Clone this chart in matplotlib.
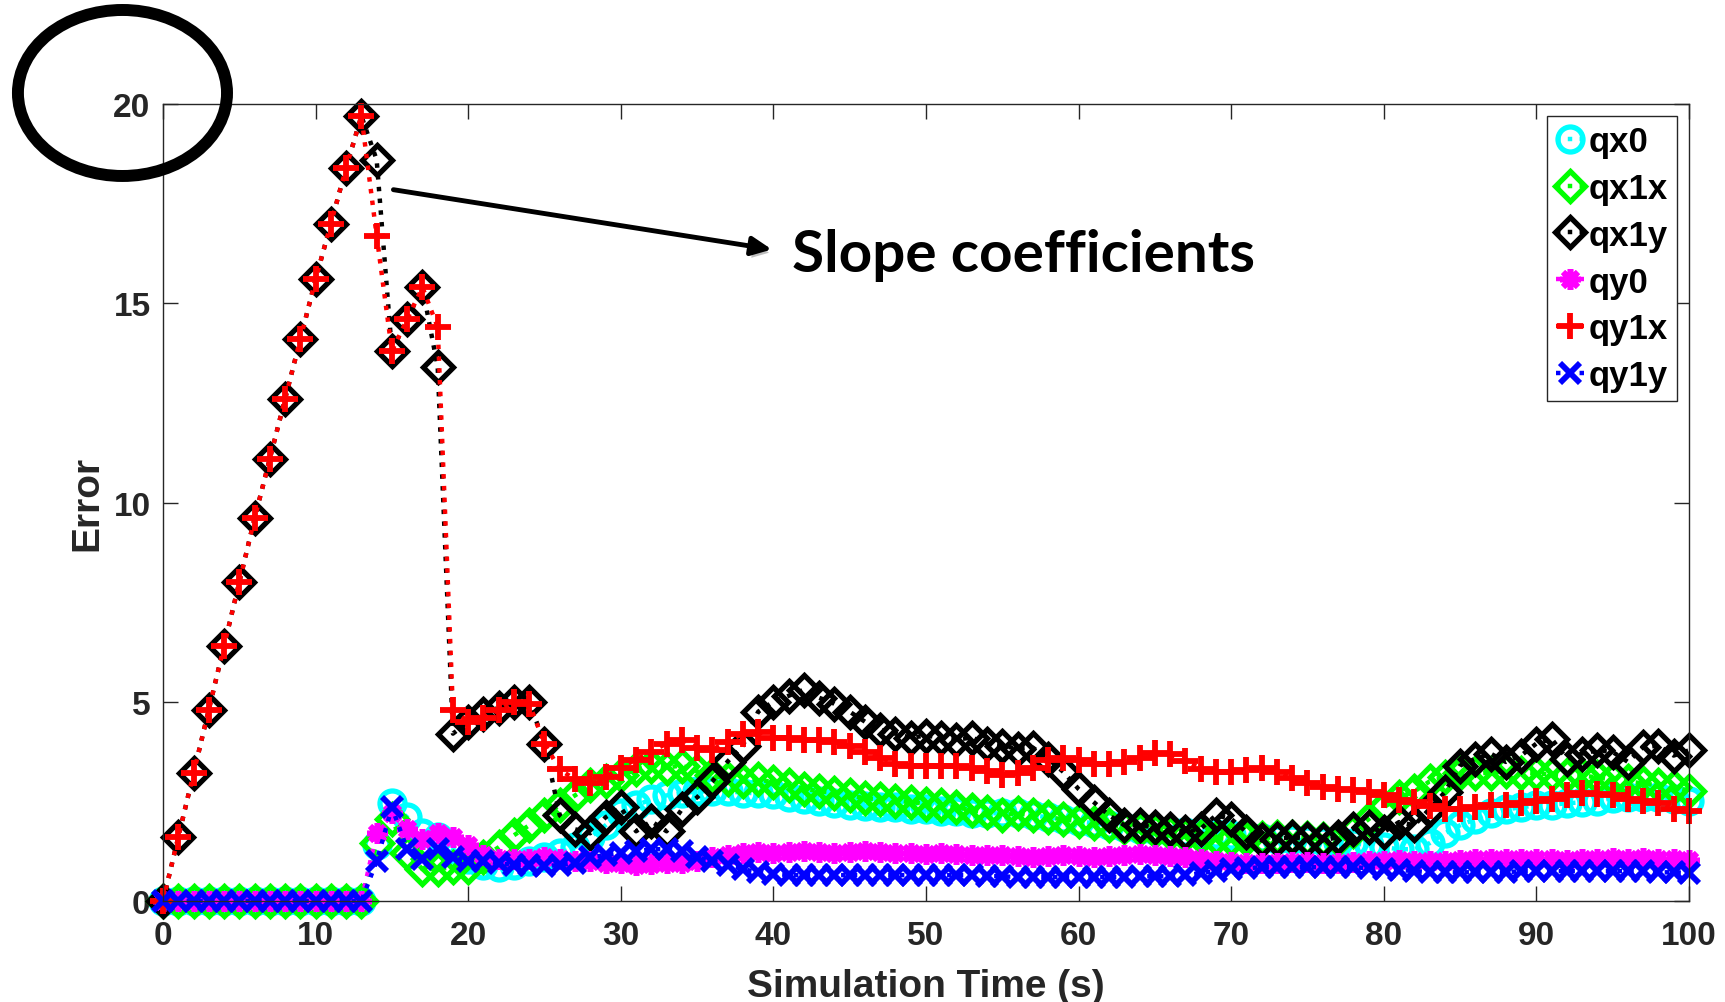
import matplotlib
matplotlib.use('Agg')
import matplotlib.pyplot as plt
import matplotlib.patheffects as pe
from matplotlib.patches import Ellipse

# simulation time (s)
time = list(range(0, 101))

qx0 = [0, 0, 0, 0, 0, 0, 0, 0, 0, 0,
       0, 0, 0, 0, 1.4, 2.45, 2.1, 1.7, 1.6, 1.3,
       1.05, 0.9, 0.85, 0.9, 1.0, 1.1, 1.2, 1.35, 1.6, 1.9,
       2.2, 2.4, 2.55, 2.65, 2.7, 2.75, 2.75, 2.75, 2.72, 2.7,
       2.68, 2.62, 2.55, 2.5, 2.45, 2.42, 2.38, 2.35, 2.35, 2.32,
       2.3, 2.27, 2.25, 2.22, 2.2, 2.2, 2.2, 2.15, 2.1, 2.05,
       2.0, 1.95, 1.9, 1.85, 1.8, 1.78, 1.75, 1.72, 1.7, 1.68,
       1.65, 1.6, 1.58, 1.55, 1.55, 1.52, 1.5, 1.48, 1.45, 1.4,
       1.35, 1.3, 1.3, 1.45, 1.7, 1.9, 2.05, 2.2, 2.3, 2.35,
       2.4, 2.42, 2.45, 2.48, 2.52, 2.58, 2.62, 2.62, 2.6, 2.55,
       2.5]

qx1x = [0, 0, 0, 0, 0, 0, 0, 0, 0, 0,
        0, 0, 0, 0, 1.45, 2.05, 1.2, 0.8, 0.8, 0.85,
        0.85, 1.1, 1.35, 1.65, 1.9, 2.15, 2.4, 2.65, 2.9, 3.0,
        3.15, 3.3, 3.4, 3.35, 3.4, 3.25, 3.15, 3.07, 3.0, 3.05,
        2.98, 2.9, 2.82, 2.75, 2.72, 2.65, 2.58, 2.55, 2.52, 2.48,
        2.44, 2.4, 2.35, 2.28, 2.23, 2.15, 2.2, 2.15, 2.1, 2.05,
        2.0, 1.95, 1.9, 1.85, 1.8, 1.75, 1.7, 1.65, 1.6, 1.58,
        1.55, 1.55, 1.58, 1.6, 1.6, 1.58, 1.55, 1.55, 1.75, 2.05,
        2.35, 2.6, 2.75, 3.0, 3.1, 3.2, 3.2, 3.22, 3.25, 3.22,
        3.2, 3.18, 3.15, 3.15, 3.1, 3.05, 3.0, 2.95, 2.9, 2.85,
        2.77]

qx1y = [0, 1.6, 3.2, 4.8, 6.4, 8.0, 9.6, 11.1, 12.6, 14.1,
        15.6, 17.0, 18.4, 19.7, 18.6, 13.8, 14.6, 15.4, 13.4, 4.2,
        4.5, 4.7, 4.85, 5.0, 5.0, 3.95, 2.15, 1.8, 1.7, 2.1,
        2.35, 1.75, 2.0, 1.75, 2.3, 2.6, 3.0, 3.5, 3.9, 4.75,
        5.0, 5.15, 5.3, 5.1, 4.95, 4.75, 4.5, 4.3, 4.2, 4.1,
        4.15, 4.1, 4.05, 4.1, 3.95, 3.9, 3.82, 3.85, 3.57, 3.24,
        2.81, 2.48, 2.15, 1.9, 1.9, 1.85, 1.81, 1.73, 1.81, 2.15,
        2.06, 1.73, 1.52, 1.56, 1.6, 1.55, 1.52, 1.6, 1.81, 1.85,
        1.73, 1.98, 1.9, 2.31, 2.73, 3.4, 3.57, 3.7, 3.49, 3.65,
        3.95, 4.07, 3.57, 3.7, 3.78, 3.74, 3.49, 3.86, 3.9, 3.65,
        3.78]

qy0 = [0, 0, 0, 0, 0, 0, 0, 0, 0, 0,
       0, 0, 0, 0, 1.7, 2.2, 1.8, 1.55, 1.7, 1.6,
       1.4, 1.15, 1.05, 1.05, 1.05, 1.1, 1.05, 1.0, 1.0, 0.95,
       0.95, 0.9, 0.92, 0.95, 0.95, 1.0, 1.1, 1.15, 1.2, 1.22,
       1.2, 1.22, 1.25, 1.22, 1.2, 1.22, 1.25, 1.22, 1.2, 1.2,
       1.18, 1.2, 1.18, 1.15, 1.15, 1.15, 1.12, 1.1, 1.12, 1.15,
       1.12, 1.1, 1.12, 1.15, 1.18, 1.15, 1.12, 1.1, 1.05, 1.0,
       0.98, 0.95, 0.95, 0.95, 0.97, 0.97, 0.95, 0.95, 0.97, 1.0,
       1.0, 1.02, 1.0, 1.0, 1.0, 1.02, 1.05, 1.05, 1.05, 1.05,
       1.05, 1.05, 1.02, 1.05, 1.05, 1.07, 1.05, 1.07, 1.05, 1.05,
       1.02]

qy1x = [0, 1.6, 3.2, 4.8, 6.4, 8.0, 9.6, 11.1, 12.6, 14.1,
        15.6, 17.0, 18.4, 19.7, 16.7, 13.8, 14.6, 15.4, 14.4, 4.8,
        4.5, 4.6, 4.8, 5.0, 4.95, 3.95, 3.3, 3.05, 2.95, 3.1,
        3.35, 3.55, 3.75, 3.95, 4.05, 3.85, 3.8, 4.0, 4.2, 4.25,
        4.1, 4.1, 4.05, 4.05, 4.0, 3.9, 3.75, 3.6, 3.45, 3.4,
        3.4, 3.4, 3.4, 3.35, 3.25, 3.15, 3.2, 3.35, 3.55, 3.6,
        3.55, 3.45, 3.45, 3.5, 3.6, 3.72, 3.68, 3.52, 3.32, 3.24,
        3.24, 3.28, 3.35, 3.24, 3.08, 2.95, 2.86, 2.82, 2.78, 2.73,
        2.65, 2.53, 2.48, 2.38, 2.32, 2.32, 2.36, 2.4, 2.42, 2.45,
        2.52, 2.57, 2.65, 2.72, 2.69, 2.65, 2.57, 2.52, 2.45, 2.32,
        2.27]

qy1y = [0, 0, 0, 0, 0, 0, 0, 0, 0, 0,
        0, 0, 0, 0, 1.0, 2.35, 1.3, 1.05, 1.3, 1.1,
        1.0, 1.0, 0.95, 0.9, 0.9, 0.88, 0.9, 0.95, 1.1, 1.15,
        1.2, 1.25, 1.3, 1.3, 1.25, 1.1, 1.0, 0.9, 0.8, 0.72,
        0.68, 0.65, 0.65, 0.65, 0.65, 0.65, 0.65, 0.65, 0.65, 0.65,
        0.65, 0.65, 0.65, 0.65, 0.63, 0.62, 0.6, 0.6, 0.6, 0.6,
        0.6, 0.6, 0.6, 0.6, 0.62, 0.62, 0.62, 0.65, 0.7, 0.75,
        0.8, 0.82, 0.85, 0.85, 0.85, 0.85, 0.85, 0.85, 0.85, 0.82,
        0.8, 0.78, 0.75, 0.72, 0.72, 0.72, 0.72, 0.72, 0.72, 0.75,
        0.75, 0.75, 0.75, 0.75, 0.75, 0.75, 0.75, 0.75, 0.72, 0.72,
        0.7]

x_ticks = [0, 10, 20, 30, 40, 50, 60, 70, 80, 90, 100]
y_ticks = [0, 5, 10, 15, 20]

dark = '#262626'
plt.rcParams['font.family'] = ['Liberation Sans', 'DejaVu Sans']
plt.rcParams['font.weight'] = 'bold'

fig = plt.figure(figsize=(17.25, 10.03), dpi=100)
ax = fig.add_axes([0.0945, 0.1007, 0.8846, 0.7946])

series = [
    (qx0, 'qx0', 'cyan', 'o', 18, 3.8),
    (qx1x, 'qx1x', '#00ff00', 'D', 15, 3.8),
    (qx1y, 'qx1y', 'black', 'D', 15, 3.8),
    (qy0, 'qy0', 'magenta', (8, 2, 0), 15, 4.0),
    (qy1x, 'qy1x', 'red', '+', 19, 4.2),
    (qy1y, 'qy1y', 'blue', 'x', 14, 4.2),
]
for vals, name, col, mk, ms, mew in series:
    ax.plot(time, vals, linestyle=':', linewidth=3.2, color=col, marker=mk,
            markersize=ms, markeredgewidth=mew, markerfacecolor='none',
            markeredgecolor=col, label=name, clip_on=False)

ax.set_xlim(0, 100)
ax.set_ylim(0, 20)
ax.set_xticks(x_ticks)
ax.set_yticks(y_ticks)
ax.tick_params(direction='in', length=11, width=1, colors=dark,
               labelsize=24, top=True, right=True)
ax.tick_params(axis='x', pad=14)
ax.tick_params(axis='y', pad=9)
for s in ax.spines.values():
    s.set_color(dark)
    s.set_linewidth(1)

ax.set_xlabel('Simulation Time (s)', fontsize=28, fontweight='bold',
              color=dark, labelpad=12)
ax.set_ylabel('Error', fontsize=28, fontweight='bold', color=dark, labelpad=6)

leg = ax.legend(loc='upper right', fontsize=25, handlelength=0.8,
                handletextpad=0.15, labelspacing=0.4, borderpad=0.25,
                borderaxespad=0.35, fancybox=False, framealpha=1)
leg.get_frame().set_edgecolor(dark)
leg.get_frame().set_linewidth(1)
for t in leg.get_texts():
    t.set_fontweight('bold')

# callout
ax.annotate('', xy=(39.9, 16.35), xytext=(15.1, 17.85),
            arrowprops=dict(arrowstyle='-|>,head_length=0.6,head_width=0.28',
                            color='black', lw=3.5, mutation_scale=20,
                            shrinkA=0, shrinkB=0,
                            path_effects=[pe.withSimplePatchShadow(
                                offset=(2, -3), alpha=0.25)]))
ax.text(41.2, 15.8, 'Slope coefficients', fontsize=42, fontweight='bold',
        family=['Lato', 'DejaVu Sans'], color='black', ha='left',
        va='baseline')

# ring around the top tick label
ring = Ellipse((0.0710, 0.9063), 0.1212, 0.1655, transform=fig.transFigure,
               fill=False, edgecolor='black', linewidth=8.6, clip_on=False)
fig.add_artist(ring)

fig.savefig('out.png', dpi=100)
